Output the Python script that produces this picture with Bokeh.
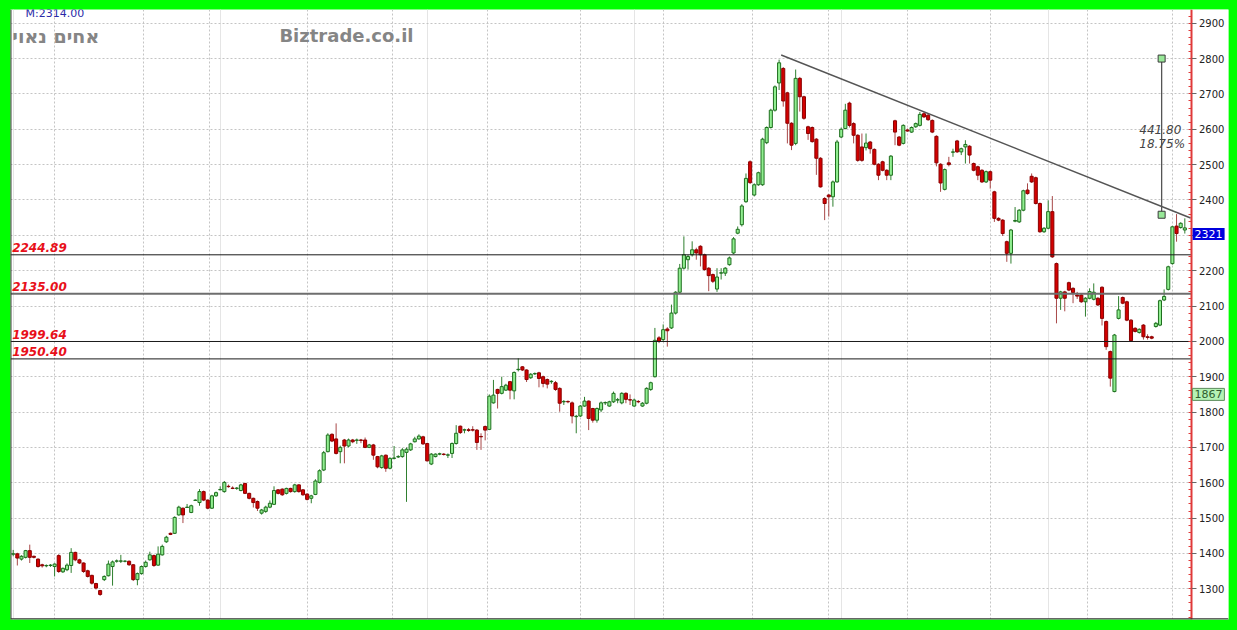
from bokeh.plotting import figure
from bokeh.models import (ColumnDataSource, Range1d, SingleIntervalTicker, FixedTicker,
                          Grid, Span, Label, GlobalInlineStyleSheet)
from bokeh.core.properties import value
from bokeh.embed import file_html
from bokeh.resources import INLINE

# ---------------- data (daily OHLC) ----------------
opens = [1398,1399,1384,1389,1408,1392,1384,1368,1365,1366,1363,1394,1348,1354,1366,1403,1382,1373,1351,1338,
         1315,1295,1326,1337,1363,1378,1378,1378,1378,1368,1326,1343,1363,1382,1394,1367,1396,1433,1457,1457,
         1509,1528,1530,1516,1550,1544,1575,1551,1528,1563,1580,1575,1590,1585,1584,1578,1598,1570,1556,1547,
         1514,1519,1531,1539,1580,1582,1570,1584,1575,1594,1580,1568,1556,1567,1601,1636,1688,
         1737,1724,1688,1721,1704,1721,1720,1721,1721,1700,1707,1674,1643,1678,1641,1669,1673,1674,1686,1693,
         1716,1724,1730,1711,1653,1674,1681,1681,1678,1683,1711,1760,1749,1750,1750,1749,1731,1759,1751,1826,
         1864,1853,1862,1886,1860,1920,1928,1919,1897,1908,1911,1900,1892,1886,1883,1867,1829,1830,1826,1787,
         1789,1817,1831,1810,1777,1806,1826,1817,1829,1834,1826,1853,1835,1817,1830,1817,1825,1864,1900,
         2010,2005,2035,2038,2080,2139,2207,2231,2245,2259,2269,2245,2207,2189,2148,2193,2193,2217,2250,2306,
         2330,2395,2508,2414,2443,2443,2562,2605,2654,2731,2772,2703,2617,2560,2744,2692,2607,2605,2572,
         2518,2404,2414,2409,2451,2578,2602,2674,2616,2583,2550,2548,2564,2543,2501,2508,2484,2470,2624,2578,
         2560,2598,2592,2607,2611,2644,2640,2625,2580,2501,2430,2505,2535,2567,2536,2550,2552,2503,2494,2484,
         2451,2480,2423,2348,2343,2282,2249,2340,2338,2371,2428,2467,2463,2390,2310,2320,2367,2220,2122,2140,
         2166,2150,2131,2131,2112,2122,2119,2122,2153,2056,1971,1858,2065,2124,2112,2060,2037,2025,2046,2013,
         2013,2042,2046,2117,2147,2220,2326,2322,2315]
highs = [1410,1402,1395,1410,1425,1394,1386,1371,1369,1370,1372,1398,1360,1372,1415,1405,1385,1375,1354,1340,
         1317,1297,1338,1380,1380,1383,1396,1381,1380,1370,1346,1366,1380,1405,1397,1420,1425,1450,1459,1505,
         1535,1530,1540,1538,1553,1582,1578,1553,1566,1575,1590,1605,1595,1590,1588,1597,1600,1572,1558,1550,
         1526,1535,1550,1590,1582,1584,1586,1586,1597,1596,1582,1570,1566,1610,1638,1690,1740,
         1740,1768,1705,1724,1725,1724,1725,1724,1728,1710,1710,1676,1679,1680,1672,1704,1678,1698,1700,1713,
         1730,1737,1733,1713,1684,1683,1685,1684,1683,1714,1763,1762,1753,1755,1760,1752,1740,1762,1850,1891,
         1866,1900,1880,1888,1915,1952,1930,1921,1910,1912,1914,1903,1895,1890,1888,1870,1834,1833,1830,1792,
         1820,1843,1833,1812,1813,1830,1830,1832,1858,1840,1856,1856,1850,1838,1834,1828,1870,1886,2038,
         2015,2048,2040,2104,2142,2219,2297,2245,2283,2265,2272,2248,2210,2192,2207,2207,2210,2240,2295,2325,
         2388,2475,2512,2447,2480,2576,2608,2658,2724,2797,2776,2706,2620,2769,2748,2695,2610,2608,2575,
         2521,2408,2417,2455,2570,2605,2672,2678,2620,2586,2588,2588,2567,2546,2504,2511,2487,2527,2627,2581,
         2614,2602,2608,2619,2649,2649,2643,2628,2583,2504,2489,2522,2545,2570,2548,2569,2555,2506,2497,2487,
         2483,2483,2426,2351,2346,2285,2318,2380,2374,2429,2447,2475,2466,2393,2323,2399,2411,2223,2143,2143,
         2169,2153,2140,2134,2125,2150,2164,2125,2156,2059,1974,2021,2128,2127,2115,2063,2040,2037,2049,2020,
         2016,2055,2118,2147,2214,2327,2360,2337,2348]
lows = [1392,1366,1380,1386,1373,1386,1360,1360,1361,1362,1335,1345,1345,1350,1345,1378,1370,1345,1332,1312,
        1298,1280,1322,1335,1309,1374,1373,1375,1365,1322,1310,1340,1360,1380,1362,1365,1394,1430,1452,1455,
        1507,1486,1529,1514,1549,1535,1548,1525,1526,1560,1579,1572,1586,1582,1580,1576,1568,1553,1530,1520,
        1510,1515,1528,1537,1567,1563,1567,1572,1572,1572,1563,1550,1542,1565,1598,1633,1686,
        1715,1680,1655,1655,1700,1712,1710,1712,1698,1698,1665,1641,1640,1631,1638,1666,1670,1671,1546,1690,
        1714,1722,1707,1660,1650,1672,1678,1677,1670,1670,1708,1738,1740,1744,1745,1693,1693,1720,1749,1824,
        1810,1850,1860,1836,1836,1915,1916,1885,1894,1905,1870,1870,1867,1880,1860,1801,1820,1825,1768,1740,
        1786,1815,1749,1770,1770,1800,1820,1815,1826,1825,1822,1825,1820,1815,1825,1815,1822,1860,1898,
        1995,2000,1985,2035,2076,2135,2203,2203,2240,2231,2212,2200,2142,2165,2140,2175,2185,2214,2247,2303,
        2325,2392,2445,2410,2440,2440,2558,2602,2650,2711,2664,2560,2541,2555,2650,2627,2570,2562,2471,
        2435,2343,2353,2381,2449,2575,2600,2605,2560,2508,2508,2540,2531,2498,2456,2481,2456,2456,2555,2552,
        2557,2593,2590,2604,2608,2632,2624,2589,2495,2423,2427,2495,2522,2533,2527,2503,2503,2481,2456,2448,
        2448,2432,2338,2340,2298,2225,2220,2337,2335,2368,2415,2448,2387,2307,2307,2317,2236,2051,2089,2085,
        2142,2108,2120,2109,2070,2119,2116,2100,2045,1976,1872,1856,2062,2105,2057,1999,2025,2022,2005,2005,
        2006,2039,2043,2114,2144,2217,2282,2319,2305]
closes = [1399,1387,1392,1408,1389,1389,1363,1365,1366,1367,1370,1349,1358,1367,1403,1382,1373,1349,1335,1316,
          1302,1284,1335,1370,1376,1379,1379,1378,1368,1326,1343,1363,1375,1396,1366,1398,1420,1446,1454,1502,
          1531,1509,1531,1535,1551,1575,1551,1528,1563,1572,1581,1601,1589,1584,1585,1594,1570,1556,1544,1528,
          1523,1531,1542,1578,1570,1566,1584,1575,1594,1575,1566,1553,1563,1605,1634,1685,1735,
          1718,1683,1700,1704,1721,1716,1721,1720,1700,1707,1678,1645,1676,1641,1669,1670,1674,1693,1695,1710,
          1724,1732,1710,1662,1681,1681,1682,1680,1679,1711,1740,1742,1750,1748,1749,1714,1730,1749,1845,1848,
          1853,1872,1876,1862,1912,1921,1919,1892,1907,1909,1895,1881,1879,1887,1864,1825,1830,1829,1789,1788,
          1817,1831,1782,1777,1810,1826,1827,1829,1853,1835,1853,1836,1834,1834,1829,1825,1867,1883,2003,
          2000,2033,2030,2080,2139,2207,2245,2240,2259,2250,2245,2203,2186,2170,2182,2194,2207,2236,2290,2317,
          2383,2461,2449,2443,2477,2572,2605,2654,2720,2788,2680,2617,2555,2744,2692,2631,2588,2565,2518,
          2437,2390,2409,2451,2564,2600,2654,2611,2583,2512,2512,2561,2545,2501,2470,2484,2470,2524,2592,2555,
          2611,2595,2605,2616,2642,2635,2627,2592,2505,2448,2486,2500,2536,2536,2545,2557,2527,2484,2470,2451,
          2480,2456,2348,2343,2305,2249,2315,2342,2371,2426,2418,2451,2390,2310,2320,2367,2239,2122,2140,2122,
          2145,2138,2128,2112,2122,2141,2139,2103,2065,1985,1896,2018,2089,2108,2060,2002,2028,2034,2013,2011,
          2009,2051,2115,2127,2211,2324,2305,2334,2321]

month_ticks = [10, 31.5, 47.5, 71, 91.5, 114.5, 137, 157, 178.5, 197, 216, 236, 259.5, 280]
levels = [2244.89, 2135.00, 1999.64, 1950.40]
level_labels = ["2244.89", "2135.00", "1999.64", "1950.40"]
trend_idx = [185.5, 284.4]
trend_val = [2810, 2349]
measure_idx = 277.4
measure_low = 2358.2
measure_high = 2800.0
measure_text = ["441.80", "18.75%"]
last_price = 2321
low_mark = 1867
title_he = "אחים נאוי"
site = "Biztrade.co.il"
top_info = "M:2314.00"

N = len(closes)
idx = list(range(N))

X0, X1 = -0.652, 293.55       # visible index range (chart + price-scale strip)
AXIS_X = 284.73               # where the price scale sits
Y0, Y1 = 1213.2, 2938.8

up = [i for i in idx if closes[i] >= opens[i]]
dn = [i for i in idx if closes[i] < opens[i]]

def src(sel):
    return ColumnDataSource(dict(
        x=sel,
        top=[max(opens[i], closes[i]) for i in sel],
        bottom=[min(opens[i], closes[i]) for i in sel],
        high=[highs[i] for i in sel],
        low=[lows[i] for i in sel],
    ))

s_up, s_dn = src(up), src(dn)

p = figure(width=1237, height=630, output_backend="svg", toolbar_location=None,
           x_range=Range1d(X0, X1), y_range=Range1d(Y0, Y1),
           y_axis_location="right", x_axis_location=None,
           min_border_left=10, min_border_right=9, min_border_top=9, min_border_bottom=11,
           border_fill_color="#00ff00", background_fill_color="white",
           outline_line_color=None)
p.stylesheets = [GlobalInlineStyleSheet(
    css="html, body { background-color: #00ff00 !important; margin: 0 !important; padding: 0 !important; overflow: hidden; }")]

# grids
p.ygrid.ticker = SingleIntervalTicker(interval=100)
p.ygrid.grid_line_color = "#c4c4c4"
p.ygrid.grid_line_dash = "2 2"
xg = Grid(dimension=0, ticker=FixedTicker(ticks=month_ticks),
          grid_line_color="#c4c4c4", grid_line_dash="2 2")
p.add_layout(xg)

# white strip behind the price scale (hides grid lines there)
p.quad(left=[AXIS_X], right=[X1], bottom=[Y0], top=[Y1], fill_color="white", line_color=None)

# right price axis, drawn at a fixed place
ax = p.yaxis[0]
ax.fixed_location = AXIS_X
ax.ticker = SingleIntervalTicker(interval=100, num_minor_ticks=5)
ax.axis_line_color = "#e03a3a"
ax.axis_line_width = 2
ax.major_tick_line_color = "#666666"
ax.major_tick_in = 0
ax.major_tick_out = 5
ax.minor_tick_line_color = "#e03a3a"
ax.minor_tick_in = 3
ax.minor_tick_out = 0
ax.major_label_text_font = "DejaVu Sans"
ax.major_label_text_font_size = "10px"
ax.major_label_text_color = "#222222"
ax.major_label_standoff = 2

# candles
p.segment(x0="x", y0="high", x1="x", y1="low", source=s_up, line_color="#2f7f2f", line_width=1)
p.segment(x0="x", y0="high", x1="x", y1="low", source=s_dn, line_color="#a84848", line_width=1)
p.vbar(x="x", width=0.74, top="top", bottom="bottom", source=s_up,
       fill_color="#90ee90", line_color="#1e6e1e", line_width=1)
p.vbar(x="x", width=0.74, top="top", bottom="bottom", source=s_dn,
       fill_color="#d40000", line_color="#8a0000", line_width=1)

# frame lines (left / bottom)
p.add_layout(Span(location=-0.6, dimension="height", line_color="#333333", line_width=1.5))
p.add_layout(Span(location=Y0 + 1.4, dimension="width", line_color="#333333", line_width=1.5))

# level lines
for lv in levels:
    if lv == 2135.00:
        p.segment(x0=[X0], y0=[lv], x1=[AXIS_X], y1=[lv], line_color="#6e6e6e", line_width=2)
    else:
        p.segment(x0=[X0], y0=[lv], x1=[AXIS_X], y1=[lv], line_color="#1a1a1a", line_width=1)
p.text(x=[-0.25] * len(levels), y=[lv + 7 for lv in levels], text=level_labels,
       text_font=value("DejaVu Sans"), text_font_style="bold italic", text_font_size="12px",
       text_color="#e8101a", text_baseline="bottom", text_align="left")

# trend line
p.line(trend_idx, trend_val, line_color="#555555", line_width=1.5)

# measurement
p.segment(x0=[measure_idx], y0=[measure_low], x1=[measure_idx], y1=[measure_high],
          line_color="#555555", line_width=1.3)
p.scatter(x=[measure_idx, measure_idx], y=[measure_low, measure_high], marker="square", size=7,
          fill_color="#98e898", line_color="#3a3a3a", line_width=1)
p.text(x=[272.0, 272.0], y=[2600, 2557], text=measure_text,
       text_font=value("DejaVu Sans"), text_font_style="italic", text_font_size="12px",
       text_color="#444444", text_baseline="middle", text_align="left")

# titles
p.text(x=[-0.2], y=[2865], text=[title_he], text_font=value("DejaVu Sans"), text_font_style="bold",
       text_font_size="19px", text_color="#858585", text_baseline="middle", text_align="left")
p.text(x=[64.3], y=[2865], text=[site], text_font=value("DejaVu Sans"), text_font_style="bold",
       text_font_size="18px", text_color="#858585", text_baseline="middle", text_align="left")
p.text(x=[3.0], y=[2927], text=[top_info], text_font=value("DejaVu Sans"),
       text_font_size="11px", text_color="#2a2aa8", text_baseline="alphabetic", text_align="left")

# price tags on the scale
p.add_layout(Label(x=AXIS_X + 0.15, y=last_price, text=str(last_price), text_color="white",
                   text_font="DejaVu Sans", text_font_size="11px", text_baseline="top",
                   background_fill_color="#0000dd", padding=2, level="overlay"))
p.add_layout(Label(x=AXIS_X + 0.1, y=low_mark, text=str(low_mark), text_color="#2e5e2e",
                   text_font="DejaVu Sans", text_font_size="11px", text_baseline="top",
                   background_fill_color="#b4f2b4", border_line_color="#5a8a5a", padding=2,
                   level="overlay"))

open("out.html", "w").write(file_html(p, INLINE))
